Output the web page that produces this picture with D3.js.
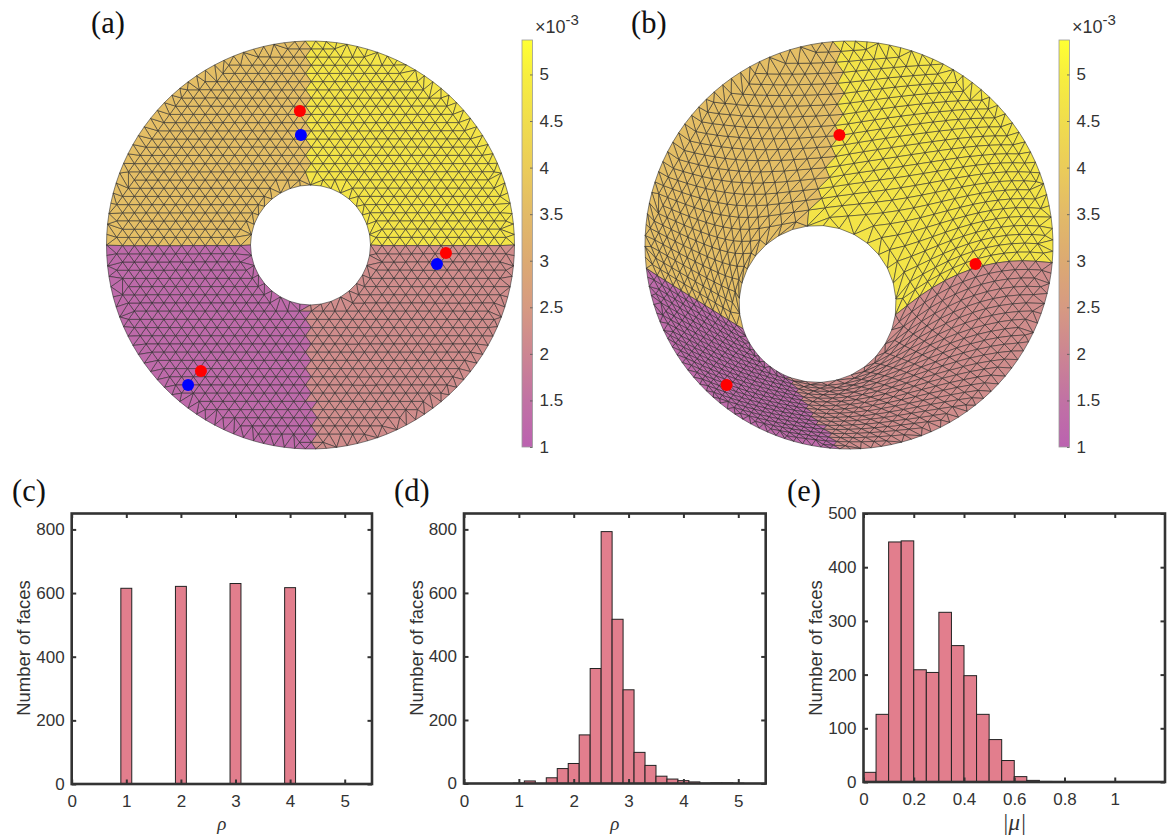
<!DOCTYPE html>
<html>
<head>
<meta charset="utf-8">
<script src="https://cdn.jsdelivr.net/npm/d3@7"></script>
<style>
  html, body { margin: 0; padding: 0; background: #fff; }
  svg { display: block; }
</style>
</head>
<body>
<svg id="chart" width="1167" height="838"></svg>
<script>
'use strict';

// histogram (c)
var rhoFlatEdges = [0.9, 1.9, 2.9, 3.9];
var rhoFlatCounts = [615, 621, 630, 617];
var rhoFlatWidth = 0.2;

// histogram (d)
var rhoEdges = [0.9, 1.1, 1.5, 1.7, 1.9, 2.1, 2.3, 2.5, 2.7, 2.9, 3.1, 3.3, 3.5, 3.7, 3.9, 4.1, 4.3, 4.5, 4.7, 4.9];
var rhoCounts = [1, 8, 18, 47, 63, 153, 362, 793, 517, 295, 98, 57, 23, 14, 9, 5, 1, 2, 2, 1];
var rhoWidth = 0.2;

// histogram (e)
var muEdges = [0, 0.05, 0.1, 0.15, 0.2, 0.25, 0.3, 0.35, 0.4, 0.45, 0.5, 0.55, 0.6, 0.65, 0.7];
var muCounts = [18, 126, 447, 449, 209, 204, 316, 254, 198, 126, 79, 40, 10, 3, 1];
var muWidth = 0.05;

var rhoTicksX = [0, 1, 2, 3, 4, 5];
var countTicksRho = [0, 200, 400, 600, 800];
var muTicksX = [0, 0.2, 0.4, 0.6, 0.8, 1];
var countTicksMu = [0, 100, 200, 300, 400, 500];

// colourbar, values in units of 1e-3
var barTicks = [1, 1.5, 2, 2.5, 3, 3.5, 4, 4.5, 5];
var barStopValues = [1, 1.5, 2, 2.5, 3, 3.5, 4, 4.5, 5, 5.35];
var barStopColors = ['#bb62b0', '#c172a4', '#cc8592', '#d69a82', '#dcaa72', '#e2ba68', '#ebcc5a', '#f0dd4d', '#f7ee3e', '#ffff33'];

// face values of the four domains: upper right, upper left, lower left, lower right
var domainValues = [4.7, 3.6, 1.25, 2.2];

// tracked landmarks in unit disc coordinates
var redDots = [[-0.052, -0.657], [0.664, 0.039], [-0.537, 0.618]];
var blueDots = [[-0.047, -0.539], [0.62, 0.093], [-0.6, 0.686]];

var svg = d3.select('#chart');
var SANS = '"Liberation Sans", Arial, sans-serif';
var SERIF = '"Liberation Serif", "Times New Roman", serif';
var INK = '#333';

var colorScale = d3.scaleLinear().domain(barStopValues).range(barStopColors);

// Unit annulus mesh: hex lattice plus rings on both boundaries
var HOLE = 60 / 204;
var STEP_X = 11.8 / 204;
var STEP_Y = 8.2 / 204;
var STEP = 10.4 / 204;

function buildMesh() {
    var pts = [];
    for (var j = -26; j <= 26; j++) {
        for (var i = -20; i <= 20; i++) {
            var x = (i + (Math.abs(j) % 2) * 0.5) * STEP_X + 0.004;
            var y = j * STEP_Y + 0.003;
            var r = Math.hypot(x, y);
            if (r > HOLE + 0.55 * STEP && r < 1 - 0.55 * STEP) pts.push([x, y]);
        }
    }
    [[1, 122], [HOLE, 36]].forEach(function (ring) {
        for (var k = 0; k < ring[1]; k++) {
            var a = 2 * Math.PI * k / ring[1];
            pts.push([ring[0] * Math.cos(a), ring[0] * Math.sin(a)]);
        }
    });

    var tri = d3.Delaunay.from(pts).triangles;
    var faces = [];
    for (var t = 0; t < tri.length; t += 3) {
        var f = [pts[tri[t]], pts[tri[t + 1]], pts[tri[t + 2]]];
        var cx = (f[0][0] + f[1][0] + f[2][0]) / 3;
        var cy = (f[0][1] + f[1][1] + f[2][1]) / 3;
        if (Math.hypot(cx, cy) < HOLE) continue;
        faces.push({ pts: f, domain: domainOf(cx, cy) });
    }
    return faces;
}

// Domain interfaces are not quite straight on the vertical axis
function domainOf(x, y) {
    if (y < 0) return x > -0.003 ? 0 : 1;
    var edge = -0.02 + 0.035 * Math.max(0, y - 0.3) / 0.7;
    return x < edge ? 2 : 3;
}

// Map of the annulus onto the deformed domain of panel (b)
var warpKnots = [-180, -90, 0, 90, 180];
var outerAngle = d3.scaleLinear().domain(warpKnots).range([-186.5, -93, 5, 94, 173.5]);
var innerAngle = d3.scaleLinear().domain(warpKnots).range([-198.4, -97.5, 8, 110, 161.6]);
var bendX = d3.scaleLinear().domain(warpKnots).range([0, 0.083, -0.01, 0, 0]);
var bendY = d3.scaleLinear().domain(warpKnots).range([0, 0, -0.1, 0, 0]);
var HOLE_B = { x: -0.154, y: 0.289, r: 0.385 };

function warp(p) {
    var r = Math.hypot(p[0], p[1]);
    var deg = Math.atan2(p[1], p[0]) * 180 / Math.PI;
    var s = Math.min(1, Math.max(0, (r - HOLE) / (1 - HOLE)));
    var ao = outerAngle(deg) * Math.PI / 180;
    var ai = innerAngle(deg) * Math.PI / 180;
    var ox = Math.cos(ao), oy = Math.sin(ao);
    var ix = HOLE_B.x + HOLE_B.r * Math.cos(ai), iy = HOLE_B.y + HOLE_B.r * Math.sin(ai);
    var b = 4 * s * (1 - s);
    return [(1 - s) * ix + s * ox + b * bendX(deg), (1 - s) * iy + s * oy + b * bendY(deg)];
}

function drawMesh(faces, transform, left, right, dots) {
    var x = d3.scaleLinear().domain([-1, 1]).range([left, right]);
    var y = d3.scaleLinear().domain([-1, 1]).range([41, 449]);
    var line = d3.line()
        .x(function (d) { return x(d[0]); })
        .y(function (d) { return y(d[1]); })
        .curve(d3.curveLinearClosed);
    var g = svg.append('g');
    g.selectAll('path')
        .data(faces)
        .enter().append('path')
        .attr('d', function (d) { return line(d.pts.map(transform)); })
        .style('fill', function (d) { return colorScale(domainValues[d.domain]); })
        .style('stroke', '#2a2a2a')
        .style('stroke-opacity', 0.72)
        .style('stroke-width', 0.8)
        .style('stroke-linejoin', 'round');
    dots.forEach(function (set) {
        g.selectAll(null)
            .data(set.points)
            .enter().append('circle')
            .attr('cx', function (d) { return x(d[0]); })
            .attr('cy', function (d) { return y(d[1]); })
            .attr('r', 6)
            .style('fill', set.color);
    });
}

function drawColorbar(id, left) {
    var y = d3.scaleLinear().domain([1, 5.37]).range([447, 40]);
    var grad = svg.append('linearGradient')
        .attr('id', id)
        .attr('gradientUnits', 'userSpaceOnUse')
        .attr('x1', 0).attr('x2', 0)
        .attr('y1', y(1)).attr('y2', y(5.35));
    grad.selectAll('stop')
        .data(barStopValues)
        .enter().append('stop')
        .attr('offset', function (d) { return (d - 1) / 4.35; })
        .attr('stop-color', function (d) { return colorScale(d); });
    svg.append('rect')
        .attr('x', left).attr('y', 40)
        .attr('width', 10.5).attr('height', 407)
        .style('fill', 'url(#' + id + ')')
        .style('stroke', '#999')
        .style('stroke-width', 0.8);
    var axis = svg.append('g')
        .attr('transform', 'translate(' + (left + 10.5) + ',0)')
        .call(d3.axisRight(y).tickValues(barTicks).tickSize(-2.5).tickPadding(7)
            .tickFormat(function (d) { return d; }));
    axis.select('.domain').remove();
    axis.selectAll('line').style('stroke', '#555').style('stroke-width', 0.8);
    axis.selectAll('text')
        .style('font-family', SANS).style('font-size', '17px').style('fill', INK);
    var label = svg.append('text')
        .attr('x', left + 13).attr('y', 33)
        .style('font-family', SANS).style('font-size', '18px').style('fill', INK);
    label.append('tspan').text('\u00d710');
    label.append('tspan').attr('dy', -8).style('font-size', '15px').text('-3');
}

function drawHistogram(opts) {
    var x = d3.scaleLinear().domain(opts.xDomain).range([opts.left, opts.right]);
    var y = d3.scaleLinear().domain(opts.yDomain).range([opts.bottom, opts.top]);
    var g = svg.append('g');

    g.selectAll('rect')
        .data(opts.edges)
        .enter().append('rect')
        .attr('x', function (d) { return x(d); })
        .attr('y', function (d, i) { return y(opts.counts[i]); })
        .attr('width', function (d) { return x(d + opts.binWidth) - x(d); })
        .attr('height', function (d, i) { return y(0) - y(opts.counts[i]); })
        .style('fill', '#e27e8d')
        .style('stroke', '#222')
        .style('stroke-width', 1);

    var xAxis = g.append('g')
        .attr('transform', 'translate(0,' + opts.bottom + ')')
        .call(d3.axisBottom(x).tickValues(opts.xTicks).tickSize(-4.5).tickPadding(11)
            .tickFormat(function (d) { return d; }));
    var yAxis = g.append('g')
        .attr('transform', 'translate(' + opts.left + ',0)')
        .call(d3.axisLeft(y).tickValues(opts.yTicks).tickSize(-4.5).tickPadding(7));
    var xTop = g.append('g')
        .attr('transform', 'translate(0,' + opts.top + ')')
        .call(d3.axisTop(x).tickValues(opts.xTicks).tickSize(-4.5).tickFormat(''));
    var yRight = g.append('g')
        .attr('transform', 'translate(' + opts.right + ',0)')
        .call(d3.axisRight(y).tickValues(opts.yTicks).tickSize(-4.5).tickFormat(''));

    [xAxis, yAxis, xTop, yRight].forEach(function (a) {
        a.select('.domain').remove();
        a.selectAll('line').style('stroke', INK).style('stroke-width', 2);
        a.selectAll('text')
            .style('font-family', SANS).style('font-size', '17px').style('fill', INK);
    });

    g.append('rect')
        .attr('x', opts.left).attr('y', opts.top)
        .attr('width', opts.right - opts.left).attr('height', opts.bottom - opts.top)
        .style('fill', 'none')
        .style('stroke', INK)
        .style('stroke-width', 2.6);

    g.append('text')
        .attr('transform', 'translate(' + opts.yLabelX + ',648) rotate(-90)')
        .attr('text-anchor', 'middle')
        .attr('dy', '0.35em')
        .style('font-family', SANS).style('font-size', '18.5px').style('fill', INK)
        .text('Number of faces');
    g.append('text')
        .attr('x', (opts.left + opts.right) / 2)
        .attr('y', 830)
        .attr('text-anchor', 'middle')
        .style('font-family', SERIF).style('font-style', 'italic')
        .style('font-size', opts.xLabelSize).style('fill', INK)
        .text(opts.xLabel);
}

var faces = buildMesh();
drawMesh(faces, function (p) { return p; }, 106.5, 514.5,
    [{ points: redDots, color: '#ff0000' }, { points: blueDots, color: '#0000ff' }]);
drawMesh(faces, warp, 645, 1053, [{ points: blueDots, color: '#ff0000' }]);
drawColorbar('cbar-a', 522);
drawColorbar('cbar-b', 1059);

drawHistogram({
    left: 71.7, right: 372, top: 513.5, bottom: 784, yLabelX: 24,
    xDomain: [0, 5.5], yDomain: [0, 850],
    edges: rhoFlatEdges, counts: rhoFlatCounts, binWidth: rhoFlatWidth,
    xTicks: rhoTicksX, yTicks: countTicksRho, xLabel: '\u03c1', xLabelSize: '19px'
});
drawHistogram({
    left: 464, right: 765.7, top: 513.5, bottom: 783.5, yLabelX: 417,
    xDomain: [0, 5.5], yDomain: [0, 850],
    edges: rhoEdges, counts: rhoCounts, binWidth: rhoWidth,
    xTicks: rhoTicksX, yTicks: countTicksRho, xLabel: '\u03c1', xLabelSize: '19px'
});
drawHistogram({
    left: 863.5, right: 1165, top: 513.5, bottom: 782, yLabelX: 816,
    xDomain: [0, 1.2], yDomain: [0, 500],
    edges: muEdges, counts: muCounts, binWidth: muWidth,
    xTicks: muTicksX, yTicks: countTicksMu, xLabel: '|\u03bc|', xLabelSize: '23px'
});

// Panel letters
var panelLabels = ['(a)', '(b)', '(c)', '(d)', '(e)'];
var panelX = [91, 631, 12, 394, 787];
var panelY = [33, 33, 501, 501, 501];
svg.selectAll('text.panel')
    .data(panelLabels)
    .enter().append('text')
    .attr('class', 'panel')
    .attr('x', function (d, i) { return panelX[i]; })
    .attr('y', function (d, i) { return panelY[i]; })
    .style('font-family', SERIF)
    .style('font-size', '30.5px')
    .style('fill', '#111')
    .text(function (d) { return d; });
</script>
</body>
</html>
